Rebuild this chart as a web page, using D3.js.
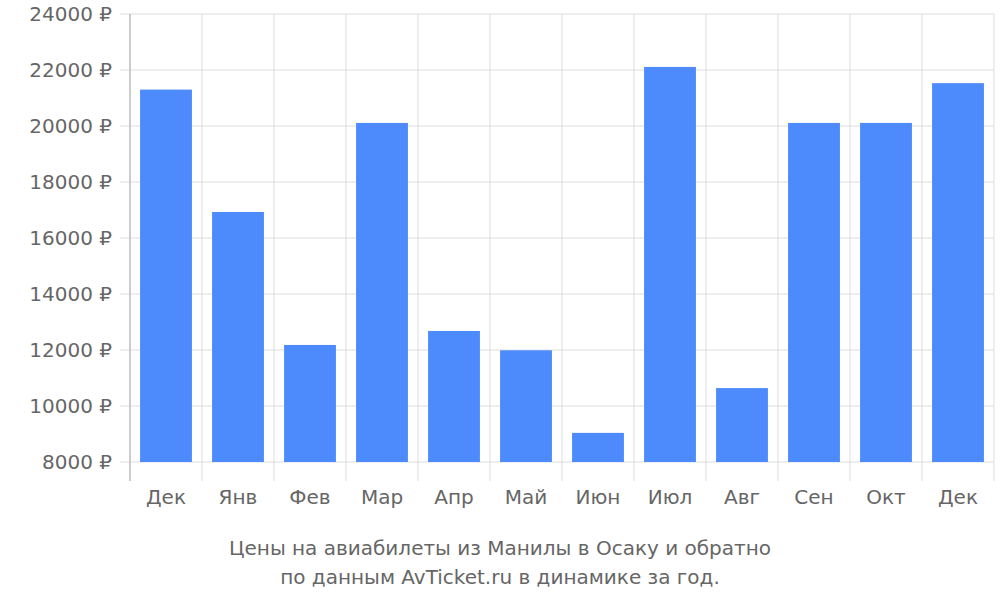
<!DOCTYPE html>
<html><head><meta charset="utf-8">
<script src="https://cdn.jsdelivr.net/npm/d3@7"></script>
<style>body{margin:0;background:#fff;font-family:"DejaVu Sans",sans-serif}</style>
</head><body>
<svg class="chart" width="1000" height="600"></svg>
<script>
const months = ["Дек", "Янв", "Фев", "Мар", "Апр", "Май", "Июн", "Июл", "Авг", "Сен", "Окт", "Дек"];
const prices = [21300, 16930, 12180, 20110, 12680, 11990, 9040, 22110, 10640, 20110, 20110, 21530];
const yTicks = [8000, 10000, 12000, 14000, 16000, 18000, 20000, 22000, 24000];
const caption = ["Цены на авиабилеты из Манилы в Осаку и обратно", "по данным AvTicket.ru в динамике за год."];

const svg = d3.select(".chart");
const plotLeft = 130, plotRight = 994, plotTop = 14, plotBottom = 462, axisEnd = 481;

const x = d3.scaleBand().domain(d3.range(months.length)).range([plotLeft, plotRight]).paddingInner(0.28).paddingOuter(0.14);
const xb = d3.scaleBand().domain(d3.range(months.length)).range([plotLeft, plotRight]);
const y = d3.scaleLinear().domain([8000, 24000]).range([plotBottom, plotTop]);

// horizontal grid
svg.selectAll(".hg").data(yTicks).enter().append("line")
    .attr("x1", plotLeft - 10).attr("x2", plotRight).attr("y1", d => y(d)).attr("y2", d => y(d))
    .attr("stroke", "#ddd").attr("stroke-width", 1);

// vertical grid
svg.selectAll(".vg").data(d3.range(months.length + 1)).enter().append("line")
    .attr("x1", d => plotLeft + d * xb.bandwidth()).attr("x2", d => plotLeft + d * xb.bandwidth())
    .attr("y1", plotTop).attr("y2", axisEnd)
    .attr("stroke", "#ddd").attr("stroke-width", 1);

svg.append("line").attr("x1", plotLeft).attr("x2", plotLeft).attr("y1", plotTop).attr("y2", axisEnd)
    .attr("stroke", "#aaa").attr("stroke-width", 1);

svg.selectAll(".bar").data(prices).enter().append("rect")
    .attr("x", (d, i) => x(i)).attr("width", x.bandwidth())
    .attr("y", d => y(d)).attr("height", d => plotBottom - y(d))
    .attr("fill", "#4d8afc");

svg.selectAll(".yl").data(yTicks).enter().append("text")
    .attr("x", 112).attr("y", d => y(d)).attr("dy", "0.35em").attr("text-anchor", "end")
    .attr("fill", "#666").style("font-size", "20px").text(d => d + " ₽");

svg.selectAll(".xl").data(months).enter().append("text")
    .attr("x", (d, i) => xb(i) + xb.bandwidth() / 2).attr("y", 504).attr("text-anchor", "middle")
    .attr("fill", "#666").style("font-size", "20px").text(d => d);

svg.selectAll(".cap").data(caption).enter().append("text")
    .attr("x", 500).attr("y", (d, i) => 555 + i * 29).attr("text-anchor", "middle")
    .attr("fill", "#666").style("font-size", "20px").text(d => d);
</script>
</body></html>
